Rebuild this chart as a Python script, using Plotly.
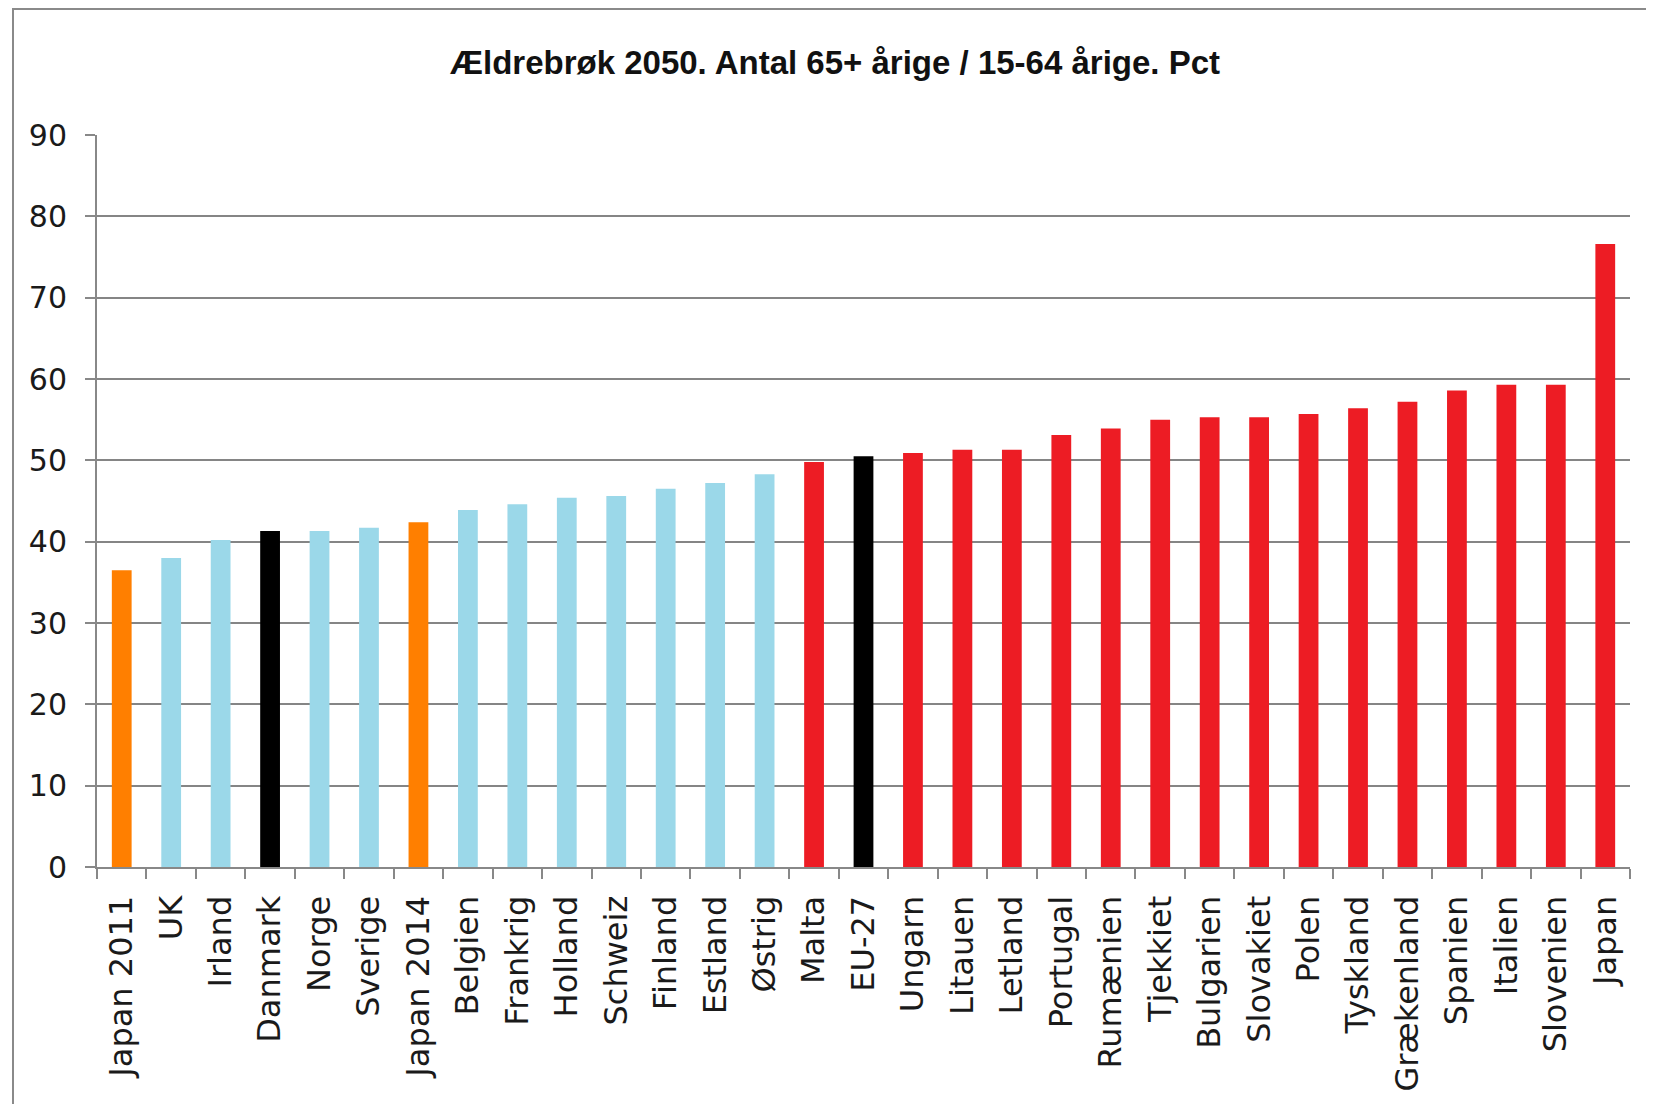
import plotly.graph_objects as go

title = "Ældrebrøk 2050. Antal 65+ årige / 15-64 årige. Pct"

categories = ["Japan 2011", "UK", "Irland", "Danmark", "Norge", "Sverige", "Japan 2014",
              "Belgien", "Frankrig", "Holland", "Schweiz", "Finland", "Estland", "Østrig",
              "Malta", "EU-27", "Ungarn", "Litauen", "Letland", "Portugal", "Rumænien",
              "Tjekkiet", "Bulgarien", "Slovakiet", "Polen", "Tyskland", "Grækenland",
              "Spanien", "Italien", "Slovenien", "Japan"]

values = [36.5, 38.0, 40.2, 41.3, 41.3, 41.7, 42.4,
          43.9, 44.6, 45.4, 45.6, 46.5, 47.2, 48.3,
          49.8, 50.5, 50.9, 51.3, 51.3, 53.1, 53.9,
          55.0, 55.3, 55.3, 55.7, 56.4, 57.2,
          58.6, 59.3, 59.3, 76.6]

groups = ["japan", "low", "low", "dk", "low", "low", "japan",
          "low", "low", "low", "low", "low", "low", "low",
          "high", "dk", "high", "high", "high", "high", "high",
          "high", "high", "high", "high", "high", "high",
          "high", "high", "high", "high"]

palette = {"japan": "#FF7F00", "low": "#9BD8E9", "dk": "#000000", "high": "#ED1C24"}

y_ticks = [0, 10, 20, 30, 40, 50, 60, 70, 80, 90]

fig = go.Figure(go.Bar(
    x=categories, y=values,
    marker=dict(color=[palette[g] for g in groups], line=dict(width=0)),
))

OFF = 8  # page body margin
W, H = 1654 - 2 * OFF, 1112 - 2 * OFF
# target positions in window pixels
plot_left, plot_right, plot_top, plot_bottom = 97, 1630, 135, 867
ml = plot_left - OFF
mt = plot_top - OFF
mr = W - (plot_right - OFF)
mb = H - (plot_bottom - OFF)
pw = W - ml - mr
ph = H - mt - mb

def px2paper_x(px):
    return (px - OFF - ml) / pw

def px2paper_y(py):
    return (plot_bottom - py) / ph

fig.update_layout(
    width=W, height=H,
    margin=dict(l=ml, r=mr, t=mt, b=mb),
    paper_bgcolor="white", plot_bgcolor="white",
    bargap=0.6,
    showlegend=False,
    title=dict(text=title, x=(835 - OFF) / W, xanchor="center", y=1 - (62 - OFF) / H, yanchor="middle",
               font=dict(family="Liberation Sans Narrow, Arial Narrow, Liberation Sans, sans-serif",
                         size=33, color="#111111", weight="bold")),
    font=dict(family="DejaVu Sans, Verdana, sans-serif", color="#1a1a1a"),
    xaxis=dict(
        type="category", tickson="boundaries", ticks="outside", ticklen=10, tickwidth=2,
        tickcolor="#888888", showline=True, linecolor="#888888", linewidth=2,
        tickangle=-90, tickfont=dict(size=32, color="#1a1a1a"), showgrid=False,
        ticklabelstandoff=14,
    ),
    yaxis=dict(
        range=[0, 90], tickvals=y_ticks, ticks="outside", ticklen=10, tickwidth=2,
        tickcolor="#888888", showline=True, linecolor="#888888", linewidth=2,
        showgrid=True, gridcolor="#858585", gridwidth=2, zeroline=False,
        tickfont=dict(size=30, color="#1a1a1a"), ticklabelstandoff=12,
    ),
    shapes=[dict(type="rect", xref="paper", yref="paper",
                 x0=px2paper_x(13), x1=px2paper_x(1654 + 30),
                 y0=px2paper_y(1112 + 30), y1=px2paper_y(9),
                 line=dict(color="#8a8a8a", width=2), fillcolor="rgba(0,0,0,0)", layer="below")],
)

fig.write_html("out.html")
